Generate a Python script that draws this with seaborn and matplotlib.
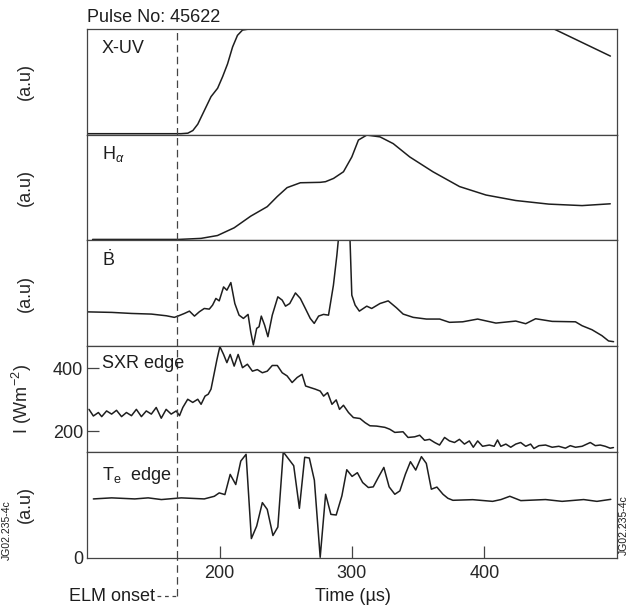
import matplotlib
matplotlib.use("Agg")
import matplotlib.pyplot as plt
import matplotlib.transforms as mtransforms
import seaborn as sns

# time axis (µs) and signals
xuv_t = [100, 170.8, 176, 179.8, 183.5, 188.5, 193.5, 198.5, 202.3, 206, 209.8, 213.5, 217.3, 222.3,
         235, 300, 420, 452.7, 474, 495.3]
xuv_v = [0.01, 0.01, 0.015, 0.04, 0.10, 0.23, 0.36, 0.44, 0.55, 0.67, 0.83, 0.94, 0.99, 1.0,
         1.2, 1.5, 1.2, 1.0, 0.872, 0.744]

ha_t = [104, 169, 186, 198.4, 211, 223.5, 236, 243.5, 251, 261, 276, 280, 286.1, 293.6, 299.9, 304.9,
        311.2, 321.2, 331.2, 343.7, 361.2, 381.3, 401.3, 423.8, 448.8, 473.9, 495.2]
ha_v = [0.01, 0.01, 0.02, 0.047, 0.12, 0.23, 0.32, 0.415, 0.50, 0.546, 0.55, 0.556, 0.587, 0.65, 0.79, 0.95,
        0.997, 0.98, 0.916, 0.79, 0.65, 0.51, 0.43, 0.378, 0.344, 0.33, 0.347]

bdot_t = [100, 118.5, 133.5, 148.5, 159.8, 165.8, 168.5, 173.4, 177.2, 181, 184.7,
          188.4, 192.2, 194.7, 197.2, 199.7, 203, 205.5, 208.5, 211.5, 214.7,
          218, 221.5, 223.5, 225.5, 228, 229.8, 231.5, 234, 236.5, 239.8,
          244, 247.3, 249.8, 253, 257.3, 261, 264.8, 268.5, 271.5, 274.8,
          278.5, 282.3, 286, 288.6, 294.3, 298.3, 299.9, 302.4, 305.6, 311.2,
          314.9, 321.2, 327.4, 333.7, 338.7, 346.3, 356.3, 366.3, 373.7, 383.7,
          395, 408.8, 423.8, 431.3, 438.8, 451.3, 468.9, 473.9, 481.4, 488.9, 493.9, 497.7]
bdot_v = [0.325, 0.32, 0.31, 0.304, 0.288, 0.273, 0.285, 0.31, 0.332, 0.285, 0.326,
          0.357, 0.351, 0.389, 0.452, 0.429, 0.561, 0.53, 0.602, 0.404, 0.294,
          0.263, 0.301, 0.137, 0.012, 0.169, 0.184, 0.285, 0.2, 0.09, 0.294,
          0.467, 0.436, 0.379, 0.404, 0.504, 0.452, 0.357, 0.263, 0.216, 0.285,
          0.301, 0.294, 0.577, 0.859, 1.6, 1.1, 0.483, 0.389, 0.332, 0.379,
          0.357, 0.404, 0.429, 0.363, 0.304, 0.273, 0.257, 0.257, 0.226, 0.231,
          0.257, 0.219, 0.238, 0.213, 0.26, 0.235, 0.231, 0.194, 0.156, 0.1, 0.05, 0.043]

sxr_t = [101.3, 104.6, 108.4, 110.9, 114.6, 118.4, 122.1, 125.9, 129.6, 133.4,
         137.1, 140.9, 144.6, 148.4, 152.1, 155.9, 159.6, 163.4, 167.2, 169.7,
         172.2, 175.9, 179.7, 183.5, 186, 189, 191.4, 193.5, 196, 198,
         200.2, 203, 205.5, 208, 211, 214, 217.3, 221, 224.8, 228.5,
         232.3, 236, 239.8, 243.6, 247.3, 251, 254.8, 258.6, 262.3, 265,
         268.6, 272.3, 276, 278.6, 281.6, 284.9, 288.1, 290.6, 293.6, 297.4,
         301.1, 306.1, 309.9, 313.6, 318.6, 324.9, 328.6, 332.4, 338.6, 342.4,
         347.4, 351.2, 354.9, 358.7, 362.5, 366.2, 370, 373.7, 377.5, 381.2,
         385, 388.7, 391.7, 395, 398.7, 403.8, 407.5, 410, 412.5, 416.3,
         420, 423.8, 427.5, 431.3, 435, 437.5, 441.3, 446.3, 451.3, 456.3,
         461.3, 465, 468.9, 473.9, 480.1, 483.9, 487.6, 491.4, 495.1, 497.6]
sxr_v = [270, 249, 260, 247, 265, 255, 267, 247, 260, 250,
         270, 247, 265, 255, 276, 242, 270, 255, 265, 250,
         276, 302, 292, 302, 286, 312, 318, 334, 386, 428,
         469, 444, 418, 444, 407, 444, 402, 413, 391, 396,
         386, 391, 409, 409, 386, 376, 355, 371, 381, 344,
         339, 334, 328, 312, 323, 286, 300, 270, 283, 260,
         244, 241, 228, 218, 217, 213, 207, 197, 199, 181,
         183, 188, 172, 175, 165, 157, 181, 170, 165, 175,
         160, 170, 150, 170, 153, 157, 153, 173, 153, 160,
         150, 160, 165, 153, 160, 146, 155, 157, 150, 153,
         147, 155, 150, 153, 165, 155, 157, 153, 147, 149]

te_t = [104.6, 118.4, 135.9, 146, 156, 171, 188.4, 196, 199.7, 204,
        208, 212.2, 216, 220, 224, 228, 232.3, 236, 240.3, 244,
        248.1, 256, 260.3, 264.3, 267.8, 271.6, 276, 280.1, 284.1, 288.1,
        292.4, 296.1, 300.1, 304.1, 308.1, 312.4, 316.1, 319.9, 324.1, 328.1,
        332.4, 336.2, 340.4, 344.2, 348.2, 352.5, 356.2, 360, 364.2, 368.8,
        372.5, 376.3, 391.3, 406.3, 412.6, 419.3, 427.6, 446.3, 458.8, 475.1,
        485.1, 495.6]
te_v = [0.556, 0.566, 0.556, 0.566, 0.55, 0.566, 0.556, 0.581, 0.613, 0.597,
        0.788, 0.692, 0.914, 0.978, 0.181, 0.299, 0.521, 0.457, 0.21, 0.29,
        1.0, 0.87, 0.467, 0.95, 0.943, 0.733, 0.004, 0.6, 0.41, 0.404,
        0.585, 0.832, 0.769, 0.804, 0.711, 0.664, 0.67, 0.759, 0.854, 0.67,
        0.6, 0.632, 0.79, 0.908, 0.829, 0.956, 0.892, 0.648, 0.668, 0.6,
        0.562, 0.543, 0.549, 0.533, 0.55, 0.581, 0.54, 0.55, 0.533, 0.55,
        0.533, 0.552]

elm_onset = 168
panel_names = ["X-UV", r"H$_{\alpha}$", r"$\dot{\mathrm{B}}$", "SXR edge", r"T$_{\mathrm{e}}$  edge"]
panel_ylabels = ["(a.u)", "(a.u)", "(a.u)", r"I (Wm$^{-2}$)", "(a.u)"]
sxr_ticks = [200, 400]
time_ticks = [200, 300, 400]

sns.set_theme(style="white")
plt.rcParams["font.family"] = ["Liberation Sans", "DejaVu Sans"]
plt.rcParams["mathtext.fontset"] = "custom"
plt.rcParams["mathtext.rm"] = "Liberation Sans"
plt.rcParams["mathtext.it"] = "Liberation Sans:italic"
plt.rcParams["mathtext.bf"] = "Liberation Sans:bold"

ink = "#1e1e1e"
fs = 13

fig = plt.figure(figsize=(6.37, 6.12), dpi=100)
axes = fig.subplots(5, 1, sharex=True)
fig.subplots_adjust(left=0.137, right=0.968, top=0.9526, bottom=0.0887, hspace=0)

series = [(xuv_t, xuv_v), (ha_t, ha_v), (bdot_t, bdot_v), (sxr_t, sxr_v), (te_t, te_v)]
label_y = [0.82, 0.815, 0.82, 0.84, 0.78]

for i, ax in enumerate(axes):
    t, v = series[i]
    sns.lineplot(x=t, y=v, ax=ax, color=ink, linewidth=1.1)
    ax.axvline(elm_onset, color="#444444", linewidth=0.9, dashes=(6, 3.5))
    for sp in ax.spines.values():
        sp.set_color("#444444")
        sp.set_linewidth(0.9)
    ax.set_xlim(100, 500)
    if i == 3:
        ax.set_ylim(135, 470)
        ax.set_yticks(sxr_ticks)
        ax.tick_params(axis="y", direction="in", length=8.5, width=0.9, color="#444444",
                       labelsize=fs, pad=3, left=True)
    elif i == 4:
        ax.set_ylim(0, 1)
        ax.set_yticks([0])
        ax.tick_params(axis="y", length=0, labelsize=fs, pad=3, left=True)
    else:
        ax.set_ylim(0, 1)
        ax.set_yticks([])
    ax.tick_params(axis="x", bottom=False)
    ax.set_ylabel(panel_ylabels[i], fontsize=fs)
    ax.yaxis.set_label_coords(-0.10, 0.5)
    ax.text(0.027, label_y[i], panel_names[i], transform=ax.transAxes, fontsize=fs,
            ha="left", va="center", color=ink)

bottom = axes[-1]
bottom.set_xticks(time_ticks)
bottom.tick_params(axis="x", bottom=True, direction="in", length=8.5, width=0.9,
                   color="#444444", labelsize=fs, pad=5)
bottom.text(0.502, -0.37, "Time (µs)", transform=bottom.transAxes, fontsize=fs,
            ha="center", va="center", color=ink)

# ELM onset marker reaching below the axes
blend = mtransforms.blended_transform_factory(bottom.transData, bottom.transAxes)
bottom.plot([elm_onset, elm_onset], [-0.365, 0], transform=blend, clip_on=False,
            color="#444444", linewidth=0.9, dashes=(6, 3.5))
bottom.plot([152.5, elm_onset], [-0.365, -0.365], transform=blend, clip_on=False,
            color="#444444", linewidth=0.9, dashes=(3, 3))
bottom.text(151, -0.365, "ELM onset", transform=blend, fontsize=fs, ha="right", va="center",
            color=ink)

fig.text(87.3 / 637, 1 - 18 / 612, "Pulse No: 45622", fontsize=fs, ha="left", va="center", color=ink)
fig.text(624 / 637, 1 - 525 / 612, "JG02.235-4c", fontsize=7.5, rotation=90, ha="center",
         va="center", color=ink)
fig.text(0.01, 1 - 530 / 612, "JG02.235-4c", fontsize=7.5, rotation=90, ha="center",
         va="center", color=ink)

fig.savefig("out.png", dpi=100)
